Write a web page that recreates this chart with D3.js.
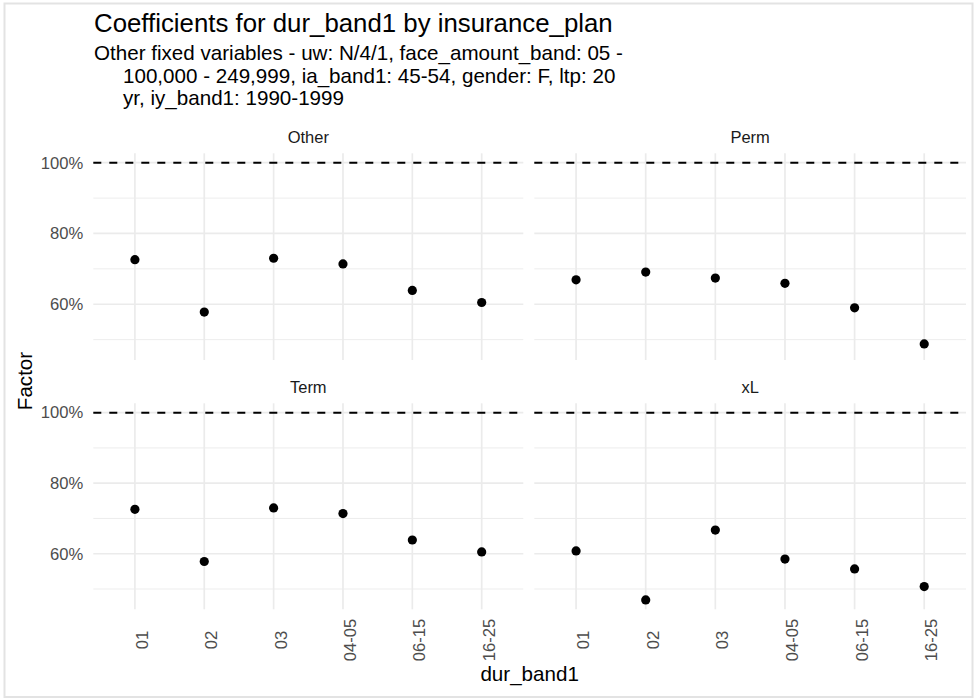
<!DOCTYPE html>
<html>
<head>
<meta charset="utf-8">
<script src="https://cdn.jsdelivr.net/npm/d3@7"></script>
<style>
  html, body { margin: 0; padding: 0; background: #ffffff; }
  svg { display: block; }
  text { font-family: "Liberation Sans", Arial, Helvetica, sans-serif; }
</style>
</head>
<body>
<svg id="chart" width="977" height="698"></svg>
<script>
// ---- data ----
const categories = ["01", "02", "03", "04-05", "06-15", "16-25"];
const facets = ["Other", "Perm", "Term", "xL"];
const valuesOther = [0.726, 0.578, 0.730, 0.714, 0.639, 0.605];
const valuesPerm  = [0.669, 0.691, 0.674, 0.659, 0.590, 0.488];
const valuesTerm  = [0.726, 0.578, 0.730, 0.714, 0.639, 0.605];
const valuesXL    = [0.608, 0.469, 0.667, 0.585, 0.557, 0.507];
const referenceLine = 1.0;
const yMajorTicks = [0.6, 0.8, 1.0];
const yMinorTicks = [0.5, 0.7, 0.9];
const titleText = "Coefficients for dur_band1 by insurance_plan";
const subtitleLines = [
  "Other fixed variables - uw: N/4/1, face_amount_band: 05 -",
  "100,000 - 249,999, ia_band1: 45-54, gender: F, ltp: 20",
  "yr, iy_band1: 1990-1999"
];
const xTitle = "dur_band1";
const yTitle = "Factor";

const seriesByFacet = {
  "Other": valuesOther, "Perm": valuesPerm, "Term": valuesTerm, "xL": valuesXL
};

// ---- layout ----
const svg = d3.select("#chart");
const colX = [[93.3, 523.3], [534.3, 966]];
const rowY = [[153.3, 360], [403.3, 609.3]];
const font = 20.6;

svg.append("rect").attr("x", 0).attr("y", 0).attr("width", 977).attr("height", 698).attr("fill", "#fff");
svg.append("rect").attr("x", 4.5).attr("y", 3.5).attr("width", 968).attr("height", 693.5)
  .attr("fill", "none").attr("stroke", "#e3e3e3").attr("stroke-width", 2);

// shared y domain (fixed scales) with 5% expansion
const allVals = [].concat(valuesOther, valuesPerm, valuesTerm, valuesXL, [referenceLine]);
const [vmin, vmax] = d3.extent(allVals);
const pad = (vmax - vmin) * 0.05;
const yDomain = [vmin - pad, vmax + pad];

facets.forEach((name, i) => {
  const c = i % 2, r = Math.floor(i / 2);
  const x = d3.scalePoint().domain(categories).range(colX[c]).padding(0.6);
  const y = d3.scaleLinear().domain(yDomain).range([rowY[r][1], rowY[r][0]]);
  const g = svg.append("g");

  // minor grid
  g.selectAll(".minor").data(yMinorTicks).enter().append("line")
    .attr("x1", colX[c][0]).attr("x2", colX[c][1])
    .attr("y1", d => y(d)).attr("y2", d => y(d))
    .attr("stroke", "#ebebeb").attr("stroke-width", 0.9);
  // major grid horizontal
  g.selectAll(".majorH").data(yMajorTicks).enter().append("line")
    .attr("x1", colX[c][0]).attr("x2", colX[c][1])
    .attr("y1", d => y(d)).attr("y2", d => y(d))
    .attr("stroke", "#ebebeb").attr("stroke-width", 1.7);
  // major grid vertical
  g.selectAll(".majorV").data(categories).enter().append("line")
    .attr("x1", d => x(d)).attr("x2", d => x(d))
    .attr("y1", rowY[r][0]).attr("y2", rowY[r][1])
    .attr("stroke", "#ebebeb").attr("stroke-width", 1.7);

  // reference line
  g.append("line")
    .attr("x1", colX[c][0]).attr("x2", colX[c][1])
    .attr("y1", y(referenceLine)).attr("y2", y(referenceLine))
    .attr("stroke", "#000").attr("stroke-width", 2)
    .attr("stroke-dasharray", "8,8");

  // points
  const vals = seriesByFacet[name];
  g.selectAll("circle").data(categories).enter().append("circle")
    .attr("cx", d => x(d)).attr("cy", (d, k) => y(vals[k]))
    .attr("r", 4.6).attr("fill", "#000");

  // strip label
  g.append("text")
    .attr("x", (colX[c][0] + colX[c][1]) / 2).attr("y", rowY[r][0] - 10)
    .attr("text-anchor", "middle").attr("font-size", 16.5).attr("fill", "#1a1a1a")
    .text(name);

  // y axis labels (left column only)
  if (c === 0) {
    g.selectAll(".ytick").data(yMajorTicks).enter().append("text")
      .attr("x", colX[c][0] - 10).attr("y", d => y(d))
      .attr("dy", "0.35em")
      .attr("text-anchor", "end").attr("font-size", 16.6).attr("fill", "#4d4d4d")
      .text(d => d3.format(".0%")(d));
  }
  // x axis labels (bottom row only)
  if (r === 1) {
    g.selectAll(".xtick").data(categories).enter().append("text")
      .attr("transform", d => `translate(${x(d) + 13},640) rotate(-90)`)
      .attr("text-anchor", "middle").attr("font-size", 16.6).attr("fill", "#4d4d4d")
      .text(d => d);
  }
});

// axis titles
svg.append("text")
  .attr("transform", "translate(31.5,381) rotate(-90)")
  .attr("text-anchor", "middle").attr("font-size", font).attr("fill", "#000")
  .text(yTitle);
svg.append("text")
  .attr("x", (colX[0][0] + colX[1][1]) / 2).attr("y", 680.7)
  .attr("text-anchor", "middle").attr("font-size", font).attr("fill", "#000")
  .text(xTitle);

// title and subtitle
svg.append("text").attr("x", 94).attr("y", 31.7)
  .attr("font-size", 25.8).attr("fill", "#000").text(titleText);
const sub = svg.append("text").attr("font-size", font).attr("fill", "#000");
subtitleLines.forEach((line, k) => {
  sub.append("tspan").attr("x", k === 0 ? 94 : 123).attr("y", 60 + k * 22.5).text(line);
});
</script>
</body>
</html>
